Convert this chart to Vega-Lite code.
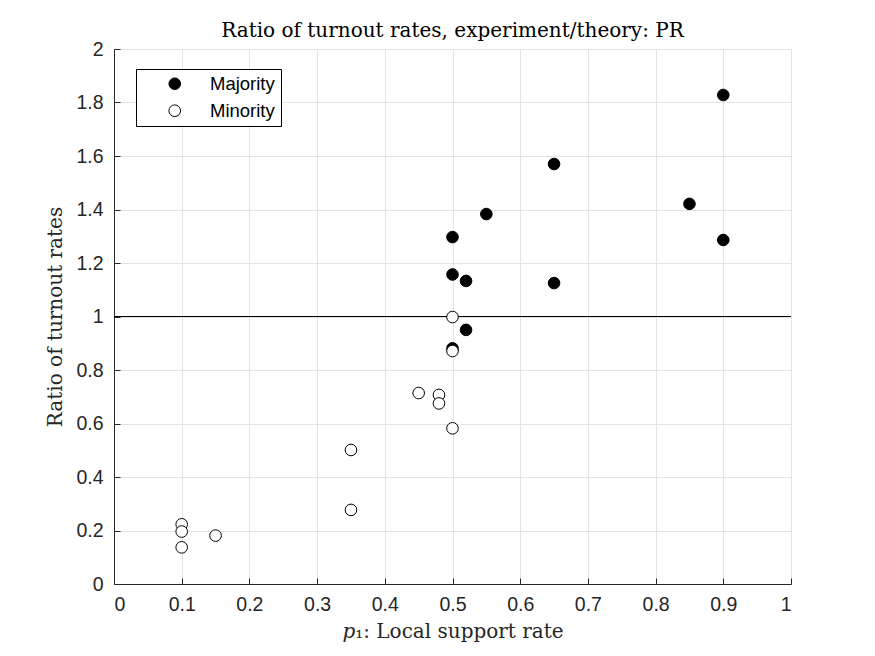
{
  "$schema": "https://vega.github.io/schema/vega-lite/v6.json",
  "width": 677,
  "height": 535,
  "autosize": {"type": "none"},
  "padding": {"left": 114, "top": 49, "right": 84, "bottom": 72},
  "background": "white",
  "title": {
    "text": "Ratio of turnout rates, experiment/theory: PR",
    "font": "DejaVu Serif",
    "fontSize": 20,
    "fontWeight": "normal",
    "color": "#000000",
    "offset": -2
  },
  "datasets": {
    "points": [
      {"p1": 0.9, "ratio": 1.828, "group": "Majority"},
      {"p1": 0.65, "ratio": 1.57, "group": "Majority"},
      {"p1": 0.55, "ratio": 1.383, "group": "Majority"},
      {"p1": 0.5, "ratio": 1.297, "group": "Majority"},
      {"p1": 0.5, "ratio": 1.157, "group": "Majority"},
      {"p1": 0.52, "ratio": 1.133, "group": "Majority"},
      {"p1": 0.65, "ratio": 1.125, "group": "Majority"},
      {"p1": 0.85, "ratio": 1.421, "group": "Majority"},
      {"p1": 0.9, "ratio": 1.286, "group": "Majority"},
      {"p1": 0.52, "ratio": 0.95, "group": "Majority"},
      {"p1": 0.5, "ratio": 0.881, "group": "Majority"},
      {"p1": 0.5, "ratio": 0.998, "group": "Minority"},
      {"p1": 0.5, "ratio": 0.871, "group": "Minority"},
      {"p1": 0.45, "ratio": 0.714, "group": "Minority"},
      {"p1": 0.48, "ratio": 0.707, "group": "Minority"},
      {"p1": 0.48, "ratio": 0.675, "group": "Minority"},
      {"p1": 0.5, "ratio": 0.582, "group": "Minority"},
      {"p1": 0.35, "ratio": 0.501, "group": "Minority"},
      {"p1": 0.35, "ratio": 0.277, "group": "Minority"},
      {"p1": 0.1, "ratio": 0.223, "group": "Minority"},
      {"p1": 0.1, "ratio": 0.196, "group": "Minority"},
      {"p1": 0.1, "ratio": 0.137, "group": "Minority"},
      {"p1": 0.15, "ratio": 0.181, "group": "Minority"}
    ],
    "reference": [{"ratio": 1}]
  },
  "layer": [
    {
      "data": {"name": "reference"},
      "mark": {"type": "rule", "color": "#000000", "strokeWidth": 1},
      "encoding": {
        "y": {"field": "ratio", "type": "quantitative", "scale": {"domain": [0, 2], "nice": false}}
      }
    },
    {
      "data": {"name": "points"},
      "mark": {"type": "point", "filled": true, "stroke": "#000000", "strokeWidth": 1, "opacity": 1, "size": 135},
      "encoding": {
        "x": {
          "field": "p1",
          "type": "quantitative",
          "scale": {"domain": [0, 1], "nice": false},
          "title": "𝑝₁: Local support rate",
          "axis": {
            "values": [0, 0.1, 0.2, 0.3, 0.4, 0.5, 0.6, 0.7, 0.8, 0.9, 1],
            "format": "~g"
          }
        },
        "y": {
          "field": "ratio",
          "type": "quantitative",
          "scale": {"domain": [0, 2], "nice": false},
          "title": "Ratio of turnout rates",
          "axis": {
            "values": [0, 0.2, 0.4, 0.6, 0.8, 1, 1.2, 1.4, 1.6, 1.8, 2],
            "format": "~g"
          }
        },
        "fill": {
          "field": "group",
          "type": "nominal",
          "scale": {"domain": ["Majority", "Minority"], "range": ["#000000", "#ffffff"]},
          "legend": {
            "title": null,
            "orient": "none",
            "legendX": 22,
            "legendY": 20,
            "direction": "vertical",
            "strokeColor": "#000000",
            "fillColor": "#ffffff",
            "padding": 5.5,
            "symbolType": "circle",
            "symbolSize": 135,
            "symbolStrokeColor": "#000000",
            "symbolStrokeWidth": 1,
            "symbolOffset": 24,
            "labelOffset": 26,
            "labelFont": "Liberation Sans",
            "labelFontSize": 18.5,
            "labelColor": "#000000",
            "rowPadding": 8,
            "labelLimit": 200
          }
        }
      }
    }
  ],
  "config": {
    "view": {"stroke": "#dcdcdc", "strokeWidth": 1},
    "axis": {
      "grid": true,
      "gridColor": "#e3e3e3",
      "gridWidth": 1,
      "domainColor": "#262626",
      "domainWidth": 1,
      "tickColor": "#262626",
      "tickSize": -6,
      "labelFont": "Liberation Sans",
      "labelFontSize": 19.5,
      "labelColor": "#262626",
      "titleFont": "DejaVu Serif",
      "titleFontSize": 20,
      "titleFontWeight": "normal",
      "titleColor": "#262626"
    },
    "axisX": {"labelPadding": 17, "titlePadding": 8},
    "axisY": {"labelPadding": 17, "titlePadding": 10}
  }
}
